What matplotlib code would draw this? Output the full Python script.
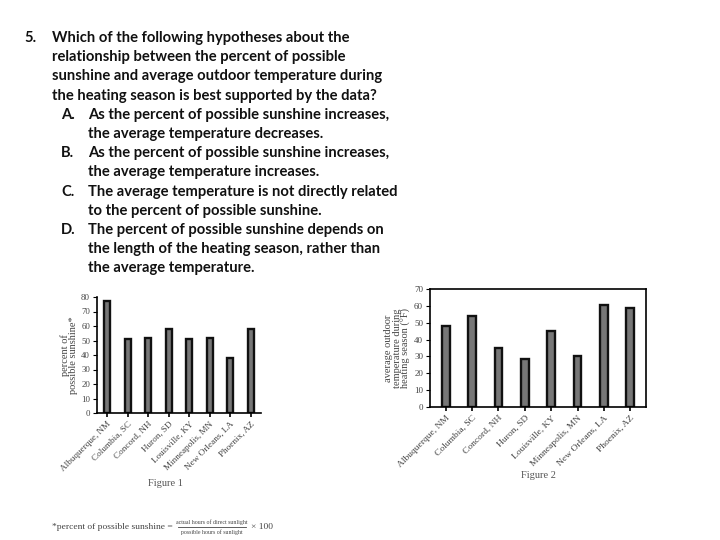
import matplotlib.pyplot as plt
from matplotlib.lines import Line2D

cities = ["Albuquerque, NM", "Columbia, SC", "Concord, NH", "Huron, SD",
          "Louisville, KY", "Minneapolis, MN", "New Orleans, LA", "Phoenix, AZ"]
sunshine = [77, 51, 52, 58, 51, 52, 38, 58]
temperature = [48, 54, 35, 28.5, 45, 30, 60.5, 58.5]

question = [
    ("5.", "Which of the following hypotheses about the"),
    ("", "relationship between the percent of possible"),
    ("", "sunshine and average outdoor temperature during"),
    ("", "the heating season is best supported by the data?"),
    ("A.", "As the percent of possible sunshine increases,"),
    ("", "the average temperature decreases."),
    ("B.", "As the percent of possible sunshine increases,"),
    ("", "the average temperature increases."),
    ("C.", "The average temperature is not directly related"),
    ("", "to the percent of possible sunshine."),
    ("D.", "The percent of possible sunshine depends on"),
    ("", "the length of the heating season, rather than"),
    ("", "the average temperature."),
]

W, H = 720, 540
fig = plt.figure(figsize=(7.2, 5.4), dpi=100)
fig.patch.set_facecolor("white")


def px(x, y):
    return x / W, 1 - y / H


qfont = dict(family="Lato", fontweight="bold", fontsize=10.6, color="#111111", va="center")
for i, (lab, line) in enumerate(question):
    y = 38 + i * 19.2
    if i < 4:
        if lab:
            fig.text(*px(24, y), lab, **qfont)
        fig.text(*px(52, y), line, **qfont)
    else:
        if lab:
            fig.text(*px(61, y), lab, **qfont)
        fig.text(*px(88, y), line, **qfont)

serif = "Liberation Serif"
grey = "#444444"
bar_kw = dict(width=0.3, color="#777777", edgecolor="#111111", linewidth=1.7)

# Figure 1
ax1 = fig.add_axes([97 / W, 1 - 413 / H, (261 - 97) / W, (413 - 297) / H])
ax1.bar(range(len(cities)), sunshine, **bar_kw)
ax1.set_ylim(0, 80)
ax1.set_xlim(-0.5, len(cities) - 0.5)
ax1.set_yticks(range(0, 81, 10))
ax1.set_xticks(range(len(cities)))
ax1.set_xticklabels(cities, rotation=45, ha="right", rotation_mode="anchor",
                    family=serif, fontsize=6.6, color=grey)
ax1.tick_params(axis="y", labelsize=6.3, labelcolor=grey, length=3, width=0.8, pad=2)
ax1.tick_params(axis="x", length=3, width=1.2, pad=2)
for lbl in ax1.get_yticklabels():
    lbl.set_family(serif)
ax1.spines["top"].set_visible(False)
ax1.spines["right"].set_visible(False)
for s in ("left", "bottom"):
    ax1.spines[s].set_linewidth(1.2)
ax1.set_ylabel("percent of\npossible sunshine*", family=serif, fontsize=7.5,
               color=grey, linespacing=0.95, labelpad=2)
fig.text(*px(165, 483), "Figure 1", family=serif, fontsize=7.5, color="#555555",
         ha="center", va="center")

# footnote formula
fig.text(*px(52, 527), "*percent of possible sunshine =", family=serif,
         fontsize=6.8, color=grey, va="center")
fig.text(*px(212, 522), "actual hours of direct sunlight", family=serif,
         fontsize=4.2, color=grey, ha="center", va="center")
fig.text(*px(212, 532), "possible hours of sunlight", family=serif,
         fontsize=4.2, color=grey, ha="center", va="center")
fig.add_artist(Line2D([178 / W, 246 / W], [1 - 527 / H, 1 - 527 / H],
                      color=grey, linewidth=0.6))
fig.text(*px(251, 527), "× 100", family=serif, fontsize=6.8, color=grey, va="center")

# Figure 2
ax2 = fig.add_axes([430 / W, 1 - 407 / H, (646 - 430) / W, (407 - 289) / H])
ax2.bar(range(len(cities)), temperature, **bar_kw)
ax2.set_ylim(0, 70)
ax2.set_xlim(-0.6, len(cities) - 0.4)
ax2.set_yticks(range(0, 71, 10))
ax2.set_xticks(range(len(cities)))
ax2.set_xticklabels(cities, rotation=45, ha="right", rotation_mode="anchor",
                    family=serif, fontsize=6.8, color=grey)
ax2.tick_params(axis="y", labelsize=6.5, labelcolor=grey, length=3, width=0.8, pad=2)
ax2.tick_params(axis="x", length=3, width=1.2, pad=2)
for lbl in ax2.get_yticklabels():
    lbl.set_family(serif)
for s in ax2.spines.values():
    s.set_linewidth(1.2)
ax2.set_ylabel("average outdoor\ntemperature during\nheating season (°F)", family=serif,
               fontsize=7.5, color=grey, linespacing=0.95, labelpad=2)
fig.text(*px(538, 476), "Figure 2", family=serif, fontsize=7.5, color="#555555",
         ha="center", va="center")

fig.savefig("out.png", dpi=100)
